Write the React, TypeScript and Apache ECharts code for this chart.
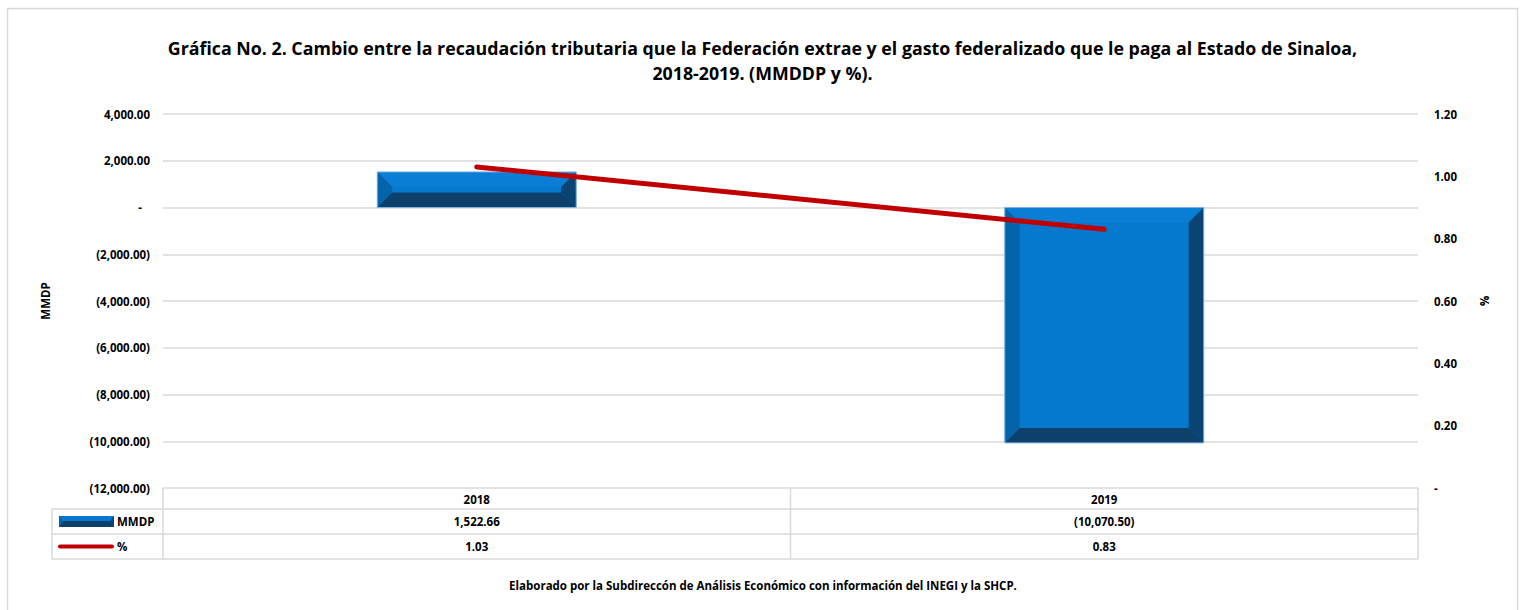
import React, { useEffect, useRef } from 'react';
import * as echarts from 'echarts';

// ---- data ----
const categories = ['2018', '2019'];
const mmdpValues = [1522.66, -10070.5];
const pctValues = [1.03, 0.83];
const seriesNames = ['MMDP', '%'];
const titleText =
  'Gráfica No. 2. Cambio entre la recaudación tributaria que la Federación extrae y el gasto federalizado que le paga al Estado de Sinaloa,\n2018-2019. (MMDDP y %).';
const footerText =
  'Elaborado por la Subdireccón de Análisis Económico con información del INEGI y la SHCP.';
const leftAxisName = 'MMDP';
const rightAxisName = '%';

// ---- layout / style ----
const W = 1525;
const H = 610;
const FONT = '"Open Sans", Lato, sans-serif';
const SMALL = 11.5;
const GRID_L = 163;
const GRID_R = 1418;
const GRID_T = 114;
const GRID_B = 488;
const TABLE_L = 52;
const ROW_Y = [488, 509, 534, 559];
const GRID_COLOR = '#D9D9D9';
const FACE = '#0679CF';
const TOPC = '#0A7DD4';
const LEFTC = '#0563AA';
const RIGHTC = '#0A4472';
const BOTTOMC = '#0D416C';
const RED = '#C00000';

function fmtNum(v: number, d = 2): string {
  const a = Math.abs(v).toFixed(d);
  const [ip, dp] = a.split('.');
  const withSep = ip.replace(/\B(?=(\d{3})+(?!\d))/g, ',');
  return dp ? `${withSep}.${dp}` : withSep;
}
function fmtAcct(v: number): string {
  if (Math.abs(v) < 1e-9) return '-';
  return v < 0 ? `(${fmtNum(v)})` : fmtNum(v);
}
function fmtPct(v: number): string {
  if (Math.abs(v) < 1e-9) return '-';
  return v.toFixed(2);
}

function bevelBar(l: number, t: number, r: number, b: number, bev: number, outline = true) {
  const w = r - l;
  const h = b - t;
  const s = Math.min(bev, w / 2, h / 2);
  const children: any[] = [
    { type: 'rect', shape: { x: l, y: t, width: w, height: h }, style: { fill: FACE } },
    {
      type: 'polygon',
      shape: { points: [[l, t], [r, t], [r - s, t + s], [l + s, t + s]] },
      style: { fill: TOPC },
    },
    {
      type: 'polygon',
      shape: { points: [[l, t], [l + s, t + s], [l + s, b - s], [l, b]] },
      style: { fill: LEFTC },
    },
    {
      type: 'polygon',
      shape: { points: [[r, t], [r, b], [r - s, b - s], [r - s, t + s]] },
      style: { fill: RIGHTC },
    },
    {
      type: 'polygon',
      shape: { points: [[l, b], [r, b], [r - s, b - s], [l + s, b - s]] },
      style: { fill: BOTTOMC },
    },
  ];
  if (outline) {
    children.push({
      type: 'rect',
      shape: { x: l, y: t, width: w, height: h },
      style: { fill: 'none', stroke: '#7FB2E0', lineWidth: 1 },
    });
  }
  return children;
}

export default function App() {
  const ref = useRef<HTMLDivElement>(null);

  useEffect(() => {
    if (!ref.current) return;
    const chart = echarts.init(ref.current, null, { renderer: 'svg', width: W, height: H });

    const colW = (GRID_R - GRID_L) / categories.length;
    const colCenter = (i: number) => GRID_L + colW * (i + 0.5);
    const textBase = { fontFamily: FONT, fontWeight: 'bold', fontSize: SMALL, fill: '#000' };

    const graphic: any[] = [
      {
        type: 'rect',
        shape: { x: 7.5, y: 8.5, width: 1510, height: 620 },
        style: { fill: 'none', stroke: GRID_COLOR, lineWidth: 1.5 },
        z: -10,
        silent: true,
      },
    ];
    [ROW_Y[1], ROW_Y[2], ROW_Y[3]].forEach((y) => {
      graphic.push({
        type: 'line',
        shape: { x1: TABLE_L, y1: y, x2: GRID_R, y2: y },
        style: { stroke: GRID_COLOR, lineWidth: 1.5 },
      });
    });
    for (let i = 0; i <= categories.length; i++) {
      const x = GRID_L + colW * i;
      graphic.push({
        type: 'line',
        shape: { x1: x, y1: ROW_Y[0], x2: x, y2: ROW_Y[3] },
        style: { stroke: GRID_COLOR, lineWidth: 1.5 },
      });
    }
    graphic.push({
      type: 'line',
      shape: { x1: TABLE_L, y1: ROW_Y[1], x2: TABLE_L, y2: ROW_Y[3] },
      style: { stroke: GRID_COLOR, lineWidth: 1.5 },
    });
    categories.forEach((c, i) => {
      const cx = colCenter(i);
      graphic.push({
        type: 'text',
        x: cx,
        y: (ROW_Y[0] + ROW_Y[1]) / 2 + 1,
        style: { ...textBase, text: c, align: 'center', verticalAlign: 'middle' },
      });
      graphic.push({
        type: 'text',
        x: cx,
        y: (ROW_Y[1] + ROW_Y[2]) / 2,
        style: { ...textBase, text: fmtAcct(mmdpValues[i]), align: 'center', verticalAlign: 'middle' },
      });
      graphic.push({
        type: 'text',
        x: cx,
        y: (ROW_Y[2] + ROW_Y[3]) / 2,
        style: { ...textBase, text: fmtPct(pctValues[i]), align: 'center', verticalAlign: 'middle' },
      });
    });
    graphic.push({
      type: 'group',
      children: [
        { type: 'rect', shape: { x: 59, y: 516, width: 55, height: 11 }, style: { fill: FACE } },
        {
          type: 'polygon',
          shape: { points: [[59, 527], [114, 527], [110, 521], [63, 521]] },
          style: { fill: BOTTOMC },
        },
        {
          type: 'polygon',
          shape: { points: [[59, 516], [63, 521], [59, 527]] },
          style: { fill: LEFTC },
        },
        {
          type: 'polygon',
          shape: { points: [[114, 516], [114, 527], [110, 521]] },
          style: { fill: RIGHTC },
        },
      ],
    });
    graphic.push({
      type: 'text',
      x: 117,
      y: (ROW_Y[1] + ROW_Y[2]) / 2,
      style: { ...textBase, text: seriesNames[0], align: 'left', verticalAlign: 'middle' },
    });
    graphic.push({
      type: 'line',
      shape: { x1: 60, y1: 546.5, x2: 112, y2: 546.5 },
      style: { stroke: RED, lineWidth: 4, lineCap: 'round' },
    });
    graphic.push({
      type: 'text',
      x: 117,
      y: (ROW_Y[2] + ROW_Y[3]) / 2,
      style: { ...textBase, text: seriesNames[1], align: 'left', verticalAlign: 'middle' },
    });
    graphic.push({
      type: 'text',
      x: 763,
      y: 585,
      style: { ...textBase, text: footerText, align: 'center', verticalAlign: 'middle' },
    });

    const option: any = {
      animation: false,
      backgroundColor: '#fff',
      title: {
        text: titleText,
        left: 'center',
        top: 30,
        textStyle: {
          fontFamily: FONT,
          fontWeight: 'bold',
          fontSize: 17.8,
          lineHeight: 25,
          color: '#000',
        },
      },
      grid: {
        left: GRID_L,
        right: W - GRID_R,
        top: GRID_T,
        bottom: H - GRID_B,
        containLabel: false,
      },
      xAxis: {
        type: 'category',
        data: categories,
        axisLine: { show: false },
        axisTick: { show: false },
        axisLabel: { show: false },
        splitLine: { show: false },
      },
      yAxis: [
        {
          type: 'value',
          min: -12000,
          max: 4000,
          interval: 2000,
          name: leftAxisName,
          nameLocation: 'middle',
          nameGap: 112,
          nameRotate: 90,
          nameTextStyle: { fontFamily: FONT, fontWeight: 'bold', fontSize: SMALL, color: '#000' },
          axisLine: { show: false },
          axisTick: { show: false },
          axisLabel: {
            margin: 13,
            fontFamily: FONT,
            fontWeight: 'bold',
            fontSize: SMALL,
            color: '#000',
            formatter: (v: number) => (Math.abs(v) < 1e-9 ? '{d|-}' : fmtAcct(v)),
            rich: {
              d: { fontFamily: FONT, fontWeight: 'bold', fontSize: SMALL, color: '#000', padding: [0, 8, 0, 0] },
            },
          },
          splitLine: { show: true, lineStyle: { color: GRID_COLOR, width: 1.5 } },
        },
        {
          type: 'value',
          min: 0,
          max: 1.2,
          interval: 0.2,
          name: rightAxisName,
          nameLocation: 'middle',
          nameGap: 60,
          nameRotate: -90,
          nameTextStyle: { fontFamily: FONT, fontWeight: 'bold', fontSize: SMALL, color: '#000' },
          axisLine: { show: false },
          axisTick: { show: false },
          axisLabel: {
            margin: 16,
            fontFamily: FONT,
            fontWeight: 'bold',
            fontSize: SMALL,
            color: '#000',
            formatter: (v: number) => fmtPct(v),
          },
          splitLine: { show: false },
        },
      ],
      series: [
        {
          name: seriesNames[0],
          type: 'custom',
          yAxisIndex: 0,
          data: categories.map((_, i) => [i, mmdpValues[i]]),
          encode: { x: 0, y: 1 },
          renderItem: (params: any, api: any) => {
            const idx = api.value(0);
            const val = api.value(1);
            const p0 = api.coord([idx, 0]);
            const p1 = api.coord([idx, val]);
            const band = api.size([1, 0])[0];
            const w = band * 0.317;
            const l = p0[0] - w / 2;
            const r = l + w;
            const t = Math.min(p0[1], p1[1]);
            const b = Math.max(p0[1], p1[1]);
            return { type: 'group', children: bevelBar(l, t, r, b, 15) };
          },
          z: 2,
        },
        {
          name: seriesNames[1],
          type: 'line',
          yAxisIndex: 1,
          data: pctValues,
          symbol: 'none',
          lineStyle: { color: RED, width: 5, cap: 'round' },
          z: 3,
        },
      ],
      graphic,
    };

    chart.setOption(option);
    return () => chart.dispose();
  }, []);

  return (
    <div
      ref={ref}
      style={{ position: 'fixed', left: 0, top: 0, width: W, height: H, background: '#fff' }}
    />
  );
}
